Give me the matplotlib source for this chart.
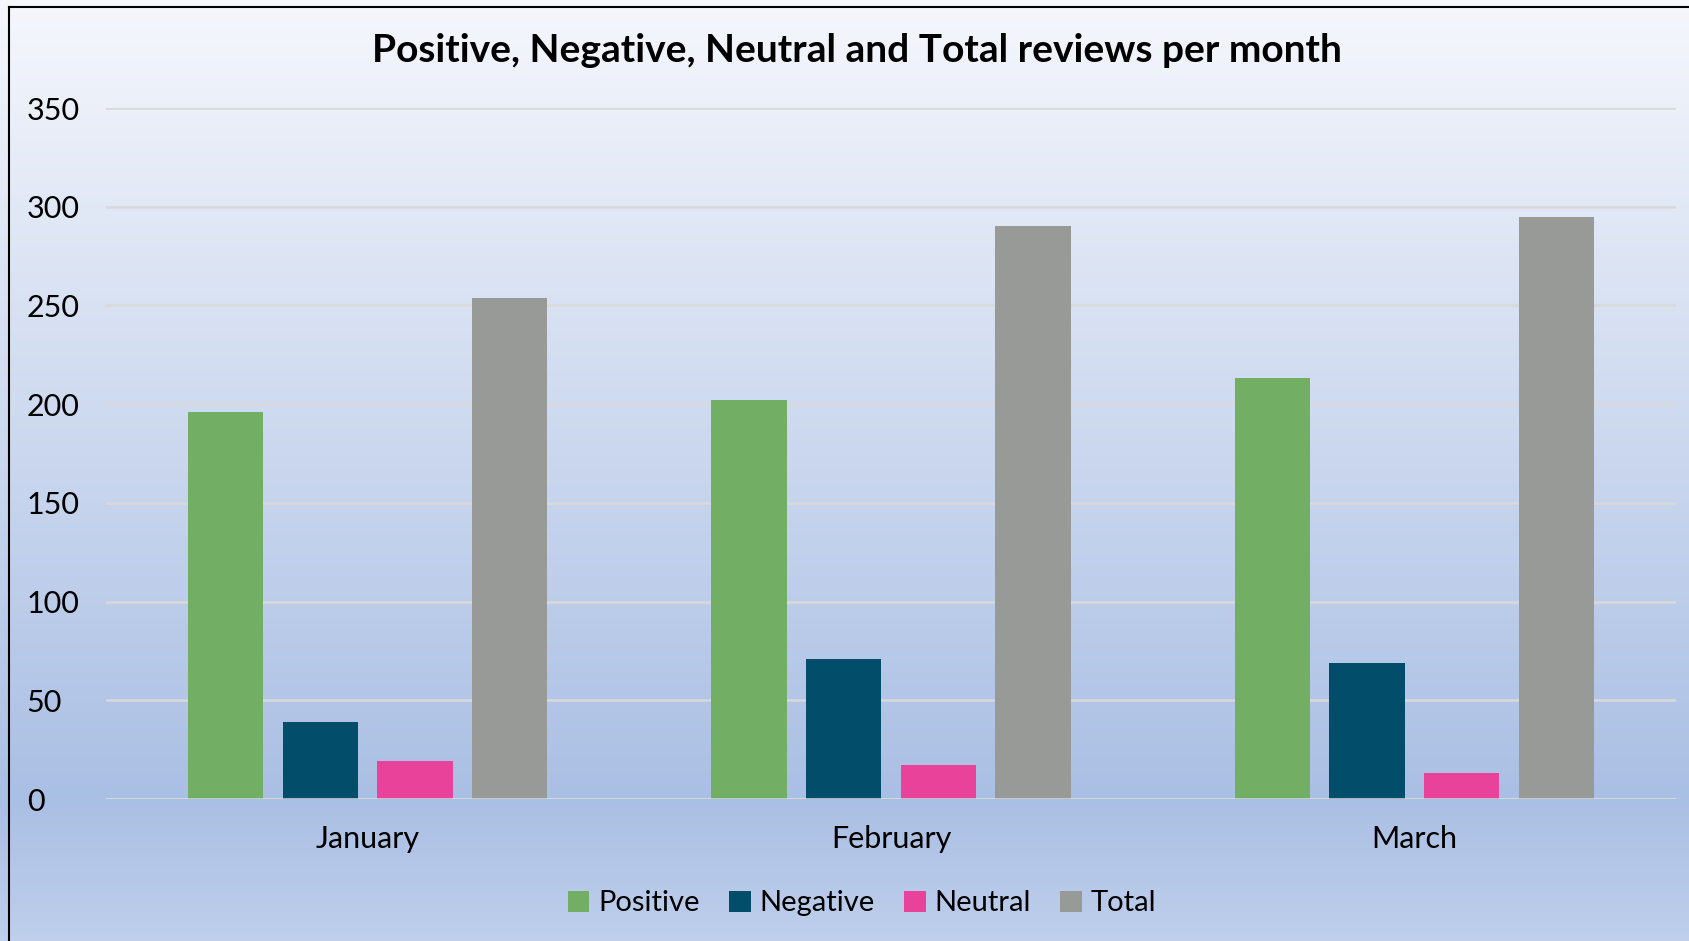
import numpy as np
import matplotlib
matplotlib.use("Agg")
import matplotlib.pyplot as plt
from matplotlib.colors import LinearSegmentedColormap
from matplotlib.lines import Line2D

months = ["January", "February", "March"]
series = ["Positive", "Negative", "Neutral", "Total"]
positive = [196, 202, 213]
negative = [39, 71, 69]
neutral = [19, 17, 13]
total = [254, 290, 295]
colors = ["#72ae64", "#024e6a", "#e8429a", "#989a97"]

plt.rcParams['font.family'] = ['Lato', 'DejaVu Sans']

fig = plt.figure(figsize=(16.9, 9.41), dpi=100)

# background gradient over the whole figure
bg = fig.add_axes([0, 0, 1, 1], zorder=-10)
cmap = LinearSegmentedColormap.from_list(
    "bg", [(0.0, "#f5f7fc"), (0.85, "#aabfe4"), (1.0, "#bfcfec")])
bg.imshow(np.linspace(0, 1, 256).reshape(-1, 1), aspect="auto", cmap=cmap,
          extent=[0, 1, 0, 1], origin="upper")
bg.axis("off")

ax = fig.add_axes([0.0627, 0.1509, 0.9290, 0.7343])
ax.patch.set_alpha(0)

x = np.arange(len(months))
step = 0.181
width = 0.144
data = [positive, negative, neutral, total]
for i, (name, vals) in enumerate(zip(series, data)):
    ax.bar(x + (i - 1.5) * step, vals, width, color=colors[i], label=name, zorder=3)

ax.set_xlim(-0.5, 2.5)
ax.set_ylim(0, 350)
ax.set_yticks(range(0, 351, 50))
ax.set_xticks(x)
ax.set_xticklabels(months)
ax.yaxis.grid(True, color="#d9d9d9", linewidth=1.8, zorder=0)
ax.set_axisbelow(True)
for s in ax.spines.values():
    s.set_visible(False)
ax.axhline(0, color="#d9d9d9", linewidth=1.8, zorder=4)
ax.tick_params(axis="both", length=0, labelsize=22, labelcolor="#000000")
ax.tick_params(axis="x", pad=19)
for lbl in ax.get_yticklabels():
    lbl.set_horizontalalignment("left")
ax.tick_params(axis="y", pad=57)

fig.text(0.507, 0.946, "Positive, Negative, Neutral and Total reviews per month",
         ha="center", va="center", fontsize=28, fontweight="bold")

fig.legend(loc="center", bbox_to_anchor=(0.510, 0.0400), ncol=4, frameon=False,
           fontsize=21, handlelength=0.75, handleheight=0.75, handletextpad=0.3,
           columnspacing=1.0)

# chart frame (top and left edges visible)
fig.add_artist(Line2D([0.0053, 0.0053], [0, 0.9925], color="black", linewidth=1.5,
                      transform=fig.transFigure))
fig.add_artist(Line2D([0.0053, 1], [0.9925, 0.9925], color="black", linewidth=1.5,
                      transform=fig.transFigure))

fig.savefig("out.png", dpi=100)
